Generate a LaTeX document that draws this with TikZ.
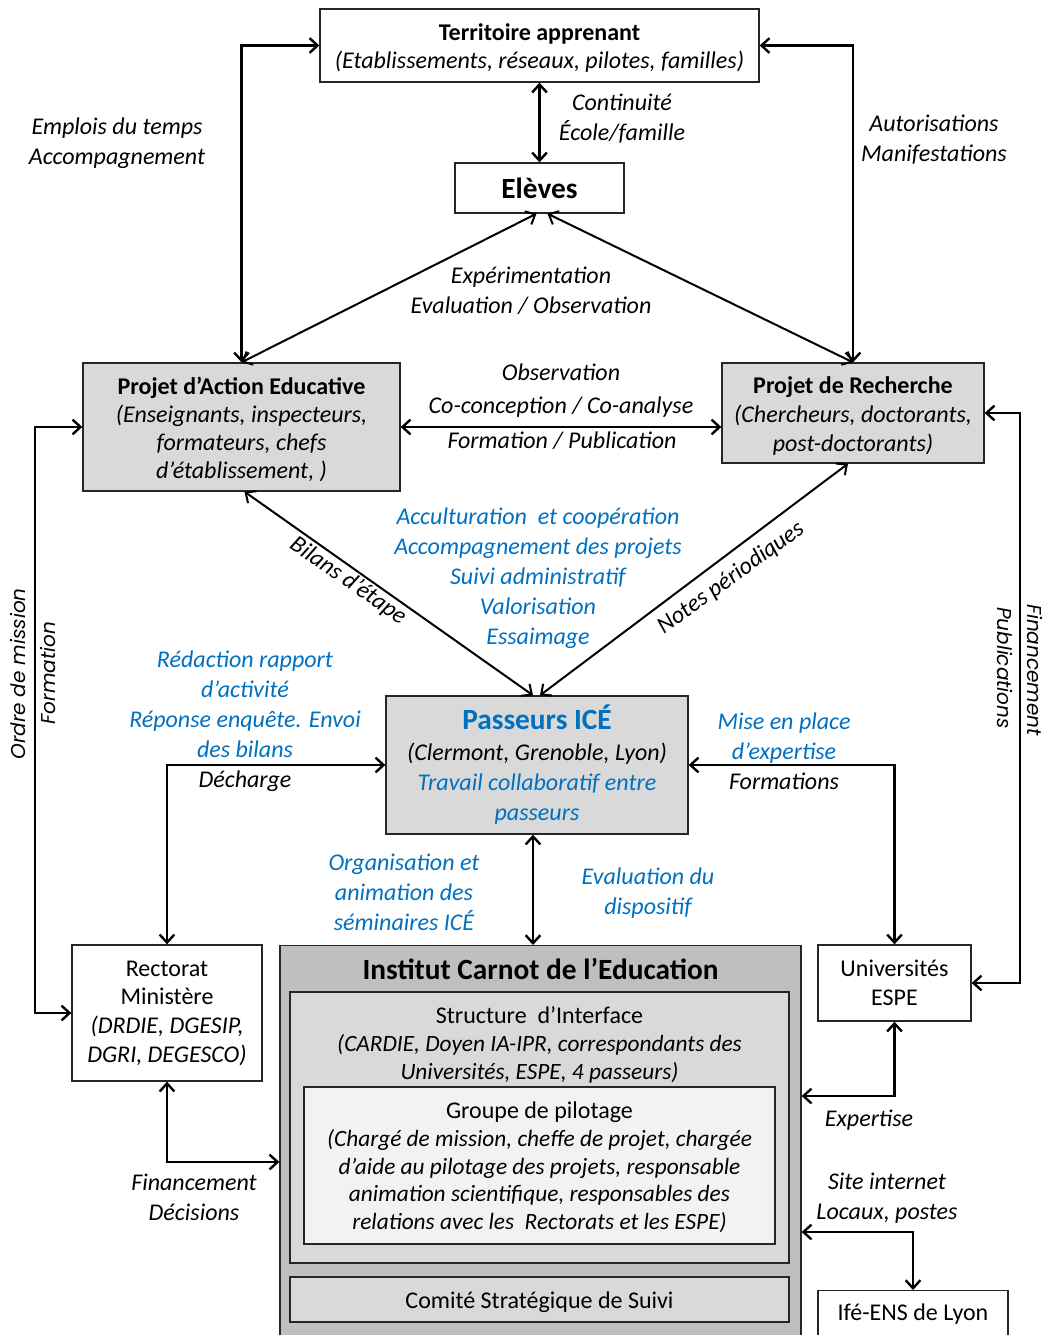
\documentclass[tikz,border=0pt]{standalone}
\usepackage{fontspec}
\setmainfont{Carlito}
\newfontfamily\gothic{Poppins}
\usetikzlibrary{arrows.meta,calc}
\definecolor{iceblue}{RGB}{0,112,192}
\definecolor{boxgray}{RGB}{217,217,217}
\definecolor{instgray}{RGB}{191,191,191}
\definecolor{pilotgray}{RGB}{242,242,242}
\newcommand{\fs}[2]{\fontsize{#1}{#2}\selectfont}
\begin{document}
\begin{tikzpicture}[x=0.75pt,y=-0.75pt,
  >={Straight Barb[length=6pt,width=11pt]},
  box/.style={draw=black!85, line width=1pt, inner sep=0pt, align=center, font=\fs{18}{21}},
  txt/.style={inner sep=0pt, align=center, font=\fs{18}{21}},
  lab/.style={inner sep=0pt, align=center, font=\fs{18}{22.5}\itshape},
  rlab/.style={inner sep=0pt, font=\fs{15}{17}\gothic\itshape},
  conn/.style={<->, line width=1.8pt},
  diag/.style={<->, line width=1.5pt}]
\useasboundingbox (0,0) rectangle (1046,1335);

% ---------- boxes ----------
\node[box, minimum width={439*0.75pt}, minimum height={73*0.75pt}] (terr) at (539.5,45.5) {};
\node[txt] (terrt) at (539.5,48.5)
  {\textbf{Territoire apprenant}\\ \textit{(Etablissements, réseaux, pilotes, familles)}};
\node[box, minimum width={169*0.75pt}, minimum height={50*0.75pt}, font=\fs{22}{26}\bfseries] (eleves) at (539.5,188) {Elèves};
\node[box, fill=boxgray, minimum width={317*0.75pt}, minimum height={128*0.75pt}] (pae) at (241.5,427) {};
\node[txt, font=\fs{18}{20.8}] (paet) at (241.5,429.5)
  {\textbf{Projet d’Action Educative}\\ \textit{(Enseignants, inspecteurs,}\\ \textit{formateurs, chefs}\\ \textit{d’établissement, )}};
\node[box, fill=boxgray, minimum width={262*0.75pt}, minimum height={100*0.75pt}] (pr) at (853,413) {};
\node[txt, font=\fs{18}{21.4}] (prt) at (853,416)
  {\textbf{Projet de Recherche}\\ \textit{(Chercheurs, doctorants,}\\ \textit{post-doctorants)}};
\node[box, fill=boxgray, minimum width={302*0.75pt}, minimum height={138*0.75pt}, font=\fs{18}{22.8}] (pass) at (537,765)
  {{\fs{22}{26}\bfseries\color{iceblue}Passeurs ICÉ}\\ \textit{(Clermont, Grenoble, Lyon)}\\ \textcolor{iceblue}{\textit{Travail collaboratif entre}}\\ \textcolor{iceblue}{\textit{passeurs}}};
\node[box, minimum width={190*0.75pt}, minimum height={136*0.75pt}, font=\fs{18}{21.5}] (rect) at (167,1013)
  {Rectorat\\ Ministère\\ \textit{(DRDIE, DGESIP,}\\ \textit{DGRI, DEGESCO)}};
\node[box, fill=instgray, minimum width={521*0.75pt}, minimum height={400*0.75pt}, anchor=north] (inst) at (540.5,945) {};
\node[inner sep=0pt, font=\fs{22}{26}\bfseries] (insttitle) at (540.5,969) {Institut Carnot de l’Education};
\node[box, fill=boxgray, minimum width={499*0.75pt}, minimum height={271*0.75pt}] (struct) at (539.5,1127.5) {};
\node[txt] (structtext) at (539.5,1045)
  {Structure~ d’Interface\\ {\fs{17.5}{21}\itshape (CARDIE, Doyen IA-IPR, correspondants des}\\ {\fs{17.5}{21}\itshape Universités, ESPE, 4 passeurs)}};
\node[box, fill=pilotgray, minimum width={471*0.75pt}, minimum height={157*0.75pt}] (group) at (539.5,1165.5) {};
\node[txt, font=\fs{17.5}{20.8}] (groupt) at (539.5,1167.5)
  {{\fs{18}{20.8}Groupe de pilotage}\\ \textit{(Chargé de mission, cheffe de projet, chargée}\\ \textit{d’aide au pilotage des projets, responsable}\\ \textit{animation scientifique, responsables des}\\ \textit{relations avec les~ Rectorats et les ESPE)}};
\node[box, fill=boxgray, minimum width={499*0.75pt}, minimum height={45*0.75pt}] (comite) at (539.5,1299.5) {};
\node[txt] (comitet) at (539.5,1302) {Comité Stratégique de Suivi};
\node[box, minimum width={153*0.75pt}, minimum height={76*0.75pt}, font=\fs{18}{21.5}] (univ) at (894.5,983) {Universités\\ ESPE};
\node[box, minimum width={190*0.75pt}, text height=22.5pt, text depth=18.75pt, anchor=north] (ife) at (913,1290) {Ifé-ENS de Lyon};

% ---------- connectors ----------
\coordinate (lx) at (35,0);
\coordinate (rx) at (1020,0);
\draw[conn] (terr.west) -| (pae.north);
\draw[conn] (terr.east) -| (pr.north);
\draw[conn] (terr.south) -- (eleves.north);
\draw[diag] ($(eleves.south)+(-3,0)$) -- (pae.north);
\draw[diag] ($(eleves.south)+(8,0)$) -- (pr.north);
\draw[conn] (pae.east) -- (pae.east -| pr.west);
\draw[diag] ($(pae.south)+(3,0)$) -- ($(pass.north)+(-4,0)$);
\draw[diag] ($(pr.south)+(-5,0)$) -- ($(pass.north)+(3,0)$);
\draw[conn] (pae.west) -- (pae.west -| lx) -- (lx |- rect.west) -- (rect.west);
\draw[conn] (pr.east) -- (pr.east -| rx) -- (rx |- univ.east) -- (univ.east);
\draw[conn] (pass.west) -| (rect.north);
\draw[conn] (pass.east) -| (univ.north);
\coordinate (pb) at ($(pass.south)+(-4,0)$);
\draw[conn] (pb) -- (pb |- inst.north);
\draw[conn] (rect.south) |- (inst.west |- 0,1162);
\draw[conn] (univ.south) |- (inst.east |- 0,1096);
\draw[conn] (inst.east |- 0,1232) -| (ife.north);

% ---------- labels ----------
\node[lab] (l1) at (622,119) {Continuité\\École/famille};
\node[lab] (l2) at (117,143) {Emplois du temps\\Accompagnement};
\node[lab] (l3) at (934,140) {Autorisations\\Manifestations};
\node[lab] (l4) at (531,291) {Expérimentation\\Evaluation / Observation};
\node[lab, font=\fs{18}{24.75}\itshape] (l5) at (561,391) {Observation\\Co-conception / Co-analyse};
\node[lab] (l6) at (562,441) {Formation / Publication};
\node[lab, text=iceblue] (l7) at (538,578.5) {Acculturation~ et coopération\\Accompagnement des projets\\Suivi administratif\\Valorisation\\Essaimage};
\node[lab, text=iceblue] (l8) at (245,721) {Rédaction rapport\\d’activité\\Réponse enquête. Envoi\\des bilans\\\textcolor{black}{Décharge}};
\node[lab, text=iceblue] (l9) at (784,751) {Mise en place\\d’expertise\\\textcolor{black}{Formations}};
\node[lab, text=iceblue] (l10) at (404,892) {Organisation et\\animation des\\séminaires ICÉ};
\node[lab, text=iceblue] (l11) at (648,893) {Evaluation du\\dispositif};
\node[lab] (l12) at (194,1197) {Financement\\Décisions};
\node[lab] (l13) at (869,1120) {Expertise};
\node[lab] (l14) at (887,1198) {Site internet\\Locaux, postes};
\node[lab, rotate=-34.6] (l15) at (348,581) {Bilans d’étape};
\node[lab, rotate=36] (l16) at (731,578) {Notes périodiques};
\node[rlab, rotate=90] (l17) at (18,674) {Ordre de mission};
\node[rlab, rotate=90] (l18) at (48,673) {Formation};
\node[rlab, rotate=-90] (l19) at (1035,670) {Financement};
\node[rlab, rotate=-90] (l20) at (1005,668) {Publications};
\end{tikzpicture}
\end{document}
